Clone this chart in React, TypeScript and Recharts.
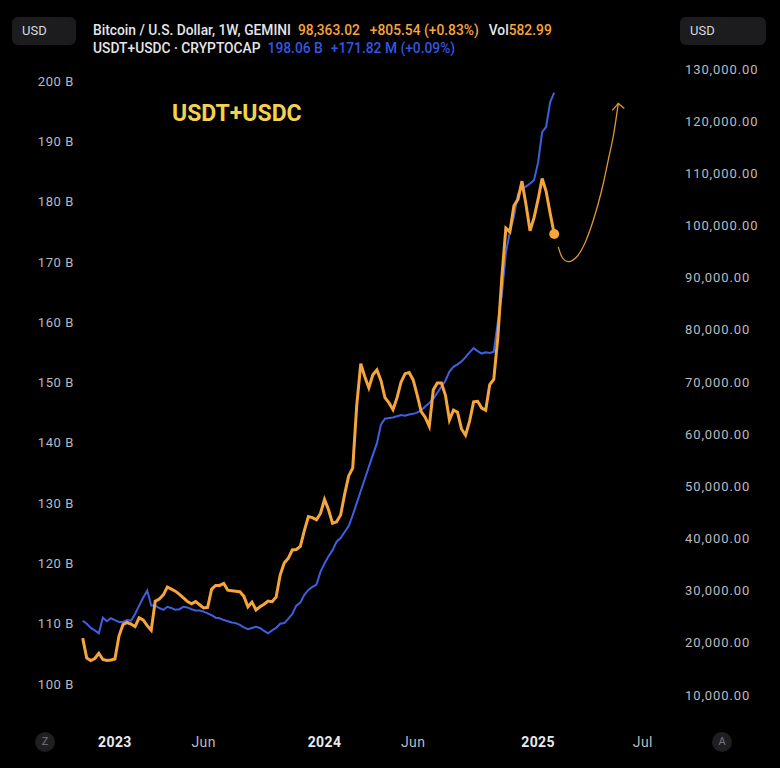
import React from 'react';
import { LineChart, Line, XAxis, YAxis } from 'recharts';

// weekly closes, first week = 2022-11-07, one point per week
// USDT+USDC market cap (billions)
const stableCap = [
  110.5, 110.0, 109.3, 108.9, 108.4, 111.0, 110.4, 110.9, 110.6, 110.3,
  110.3, 110.6, 110.5, 111.6, 113.0, 114.3, 115.5, 113.0, 113.0, 112.6,
  112.3, 112.8, 112.6, 112.3, 112.4, 112.8, 112.7, 112.4, 112.2, 112.2,
  112.0, 111.7, 111.4, 111.0, 110.9, 110.6, 110.4, 110.2, 110.1, 109.8,
  109.4, 109.1, 109.3, 109.5, 109.3, 108.8, 108.4, 108.9, 109.3, 110.0,
  110.1, 110.8, 111.6, 113.0, 113.5, 114.8, 115.6, 116.1, 116.5, 118.6,
  120.0, 121.2, 122.2, 123.6, 124.2, 125.2, 126.2, 128.0, 130.0, 132.0,
  134.0, 136.0, 138.0, 139.9, 143.0, 144.0, 144.1, 144.2, 144.4, 144.6,
  144.5, 144.7, 144.8, 145.0, 145.4, 146.0, 146.6, 147.3, 148.3, 149.3,
  150.3, 151.8, 152.6, 153.0, 153.5, 154.2, 155.0, 155.7, 155.2, 154.8,
  155.0, 154.9, 155.1, 160.0, 164.5, 171.5, 175.0, 177.5, 181.2, 182.3,
  182.5, 183.0, 183.6, 186.5, 191.5, 192.4, 196.5, 198.06,
];

// Bitcoin / U.S. Dollar weekly close
const btcClose = [
  20900, 17100, 16600, 17000, 18000, 16800, 16600, 16700, 16900, 21300,
  23500, 23900, 23600, 23100, 24800, 24400, 23300, 22400, 28000, 28400,
  29200, 30700, 30300, 29900, 29300, 28600, 27900, 27500, 27900, 27300,
  26700, 26800, 30300, 31000, 31000, 31400, 30100, 30000, 29900, 29800,
  28900, 26900, 27800, 26300, 26900, 27400, 28000, 27900, 28800, 33000,
  35300, 36200, 37800, 37900, 38500, 41500, 44200, 44000, 43600, 44800,
  47500, 45500, 42900, 43200, 44500, 48500, 52000, 53500, 65500, 73500,
  71000, 68900, 71400, 72300, 70300, 67000, 66000, 64700, 67000, 70000,
  71600, 71800, 70400, 67500, 64300, 63200, 61500, 68500, 69800, 69800,
  67500, 62700, 64600, 64200, 61000, 59800, 62500, 66200, 66300, 65000,
  64600, 69500, 70500, 78500, 90000, 99500, 98800, 103800, 105000, 108500,
  104000, 99000, 101500, 105000, 109000, 106500, 102300, 98363,
];

// hand-drawn projection arrow (week index, price)
const projWeeks = [118.0, 118.9, 120.5, 122.6, 124.6, 126.7, 128.8, 130.4, 131.7, 132.9];
const projPrice = [95900, 94000, 93060, 94000, 96600, 101000, 106800, 112500, 117300, 123400];

const xTickWeeks = [8, 30, 60, 82, 113, 139];
const xTickLabels = ['2023', 'Jun', '2024', 'Jun', '2025', 'Jul'];
const leftTicks = [100, 110, 120, 130, 140, 150, 160, 170, 180, 190, 200];
const rightTicks = [
  10000, 20000, 30000, 40000, 50000, 60000, 70000,
  80000, 90000, 100000, 110000, 120000, 130000,
];

const ORANGE = '#f6a53c';
const ARROW = '#e0963a';
const BLUE = '#3f5fe2';
const HEAD_BLUE = '#3557e0';
const AXIS_TEXT = '#b9bbc0';
const FONT = 'Roboto, "Noto Sans", sans-serif';

const data = btcClose.map((v, i) => ({ w: i, btc: v, stable: stableCap[i] }));
const projection = projWeeks.map((w, i) => ({ w, proj: projPrice[i] }));

const fmtUsd = (v: number) =>
  v.toLocaleString('en-US', { minimumFractionDigits: 2, maximumFractionDigits: 2 });

const leftTick = { fill: AXIS_TEXT, fontSize: 13, fontFamily: FONT, letterSpacing: 0.6 };
const rightTick = { fill: AXIS_TEXT, fontSize: 13, fontFamily: FONT, letterSpacing: 0.9 };

const XTick = (props: any) => {
  const { x, y, payload } = props;
  const idx = xTickWeeks.indexOf(payload.value);
  const label = xTickLabels[idx] ?? '';
  const isYear = /^\d{4}$/.test(label);
  return (
    <text
      x={x}
      y={y + 22}
      textAnchor="middle"
      dominantBaseline="central"
      fill={isYear ? '#e8e9ec' : AXIS_TEXT}
      fontWeight={isYear ? 700 : 400}
      fontSize={14}
      letterSpacing={0.4}
      fontFamily={FONT}
    >
      {label}
    </text>
  );
};

const lastBtc = btcClose.length - 1;
const EndDot = (props: any) => {
  const { cx, cy, index } = props;
  if (index !== lastBtc) return <g key={`d-${index}`} />;
  return <circle key={`d-${index}`} cx={cx} cy={cy} r={5} fill={ORANGE} />;
};

const ArrowHead = (props: any) => {
  const { cx, cy, index } = props;
  if (index !== projWeeks.length - 1) return <g key={`a-${index}`} />;
  return (
    <path
      key={`a-${index}`}
      d={`M ${cx - 6} ${cy + 7} L ${cx} ${cy} L ${cx + 6} ${cy + 5}`}
      stroke={ARROW}
      strokeWidth={1.3}
      fill="none"
    />
  );
};

const usdBox: React.CSSProperties = {
  position: 'absolute',
  top: 17,
  height: 28,
  background: '#1c1c1e',
  borderRadius: 6,
  color: '#d8d9dd',
  fontSize: 13,
  lineHeight: '28px',
  paddingLeft: 10,
  boxSizing: 'border-box',
};

const roundBtn: React.CSSProperties = {
  position: 'absolute',
  top: 732,
  width: 20,
  height: 20,
  borderRadius: 10,
  background: '#1f1f21',
  color: '#77787c',
  fontSize: 11,
  lineHeight: '20px',
  textAlign: 'center',
};

const headLine: React.CSSProperties = {
  position: 'absolute',
  left: 93,
  fontSize: 13.8,
  fontWeight: 500,
  color: '#e4e5e8',
  whiteSpace: 'nowrap',
  lineHeight: '18px',
};

export default function App() {
  return (
    <div
      style={{
        position: 'fixed',
        left: 0,
        top: 0,
        width: 780,
        height: 768,
        background: '#000',
        fontFamily: FONT,
        overflow: 'hidden',
      }}
    >
      <LineChart width={780} height={768} data={data} margin={{ top: 50, right: 0, bottom: 0, left: 0 }}>
        <XAxis
          dataKey="w"
          type="number"
          domain={[-0.67, 146.97]}
          ticks={xTickWeeks}
          tick={<XTick />}
          tickLine={false}
          axisLine={false}
          tickSize={0}
          tickMargin={0}
          height={48}
          allowDataOverflow
        />
        <YAxis
          yAxisId="left"
          orientation="left"
          width={80}
          domain={[94.03, 205.14]}
          ticks={leftTicks}
          tickFormatter={(v: number) => `${v} B`}
          tick={leftTick}
          tickLine={false}
          axisLine={false}
          tickSize={0}
          tickMargin={6}
          allowDataOverflow
        />
        <YAxis
          yAxisId="right"
          orientation="right"
          width={105}
          domain={[5208, 133642]}
          ticks={rightTicks}
          tickFormatter={fmtUsd}
          tick={rightTick}
          tickLine={false}
          axisLine={false}
          tickSize={0}
          tickMargin={10}
          allowDataOverflow
        />
        <Line
          yAxisId="left"
          dataKey="stable"
          stroke={BLUE}
          strokeWidth={2}
          dot={false}
          type="linear"
          isAnimationActive={false}
        />
        <Line
          yAxisId="right"
          dataKey="btc"
          stroke={ORANGE}
          strokeWidth={3}
          dot={<EndDot />}
          type="linear"
          isAnimationActive={false}
        />
        <Line
          yAxisId="right"
          data={projection}
          dataKey="proj"
          stroke={ARROW}
          strokeWidth={1.3}
          dot={<ArrowHead />}
          type="natural"
          isAnimationActive={false}
        />
      </LineChart>

      <div style={{ ...usdBox, left: 12, width: 64 }}>USD</div>
      <div style={{ ...usdBox, left: 680, width: 86 }}>USD</div>

      <div style={{ ...headLine, top: 21 }}>
        Bitcoin / U.S. Dollar, 1W, GEMINI
        <span style={{ color: ORANGE, marginLeft: 7 }}>98,363.02</span>
        <span style={{ color: ORANGE, marginLeft: 10 }}>+805.54 (+0.83%)</span>
        <span style={{ marginLeft: 10 }}>Vol</span>
        <span style={{ color: ORANGE }}>582.99</span>
      </div>
      <div style={{ ...headLine, top: 39 }}>
        USDT+USDC · CRYPTOCAP
        <span style={{ color: HEAD_BLUE, marginLeft: 7 }}>198.06 B</span>
        <span style={{ color: HEAD_BLUE, marginLeft: 8 }}>+171.82 M (+0.09%)</span>
      </div>

      <div
        style={{
          position: 'absolute',
          left: 172,
          top: 100,
          fontSize: 23,
          fontWeight: 700,
          color: '#f4d24c',
          whiteSpace: 'nowrap',
        }}
      >
        USDT+USDC
      </div>

      <div style={{ ...roundBtn, left: 35 }}>Z</div>
      <div style={{ ...roundBtn, left: 712 }}>A</div>
    </div>
  );
}
